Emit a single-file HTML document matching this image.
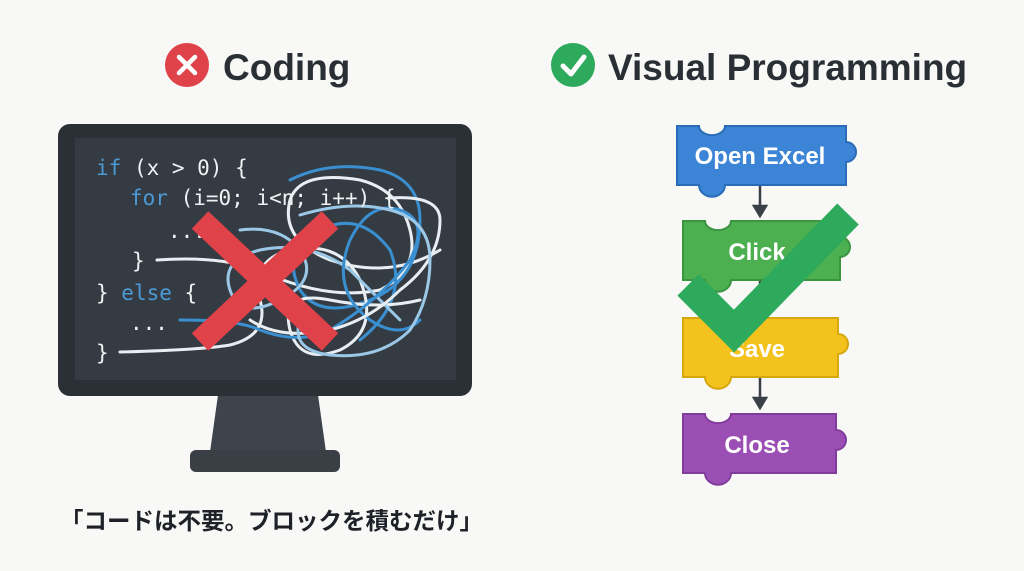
<!DOCTYPE html>
<html><head><meta charset="utf-8"><style>
html,body{margin:0;padding:0;background:#f8f8f6;}
svg{display:block}
</style></head><body>
<svg width="1024" height="571" viewBox="0 0 1024 571" xmlns="http://www.w3.org/2000/svg">
<rect width="1024" height="571" fill="#f8f8f6"/>
<circle cx="187" cy="65" r="22" fill="#e0424a"/>
<path d="M179 57 L195 73 M195 57 L179 73" stroke="#fff" stroke-width="4.5" stroke-linecap="round"/>
<text x="223" y="80" font-family="Liberation Sans, sans-serif" font-weight="bold" font-size="37" fill="#2a2f36">Coding</text>
<circle cx="573" cy="65" r="22" fill="#2eaa5c"/>
<path d="M563 66 L571 74 L584 57" stroke="#fff" stroke-width="5" fill="none" stroke-linecap="round" stroke-linejoin="round"/>
<text x="608" y="80" font-family="Liberation Sans, sans-serif" font-weight="bold" font-size="37" fill="#2a2f36">Visual Programming</text>
<path d="M218 395 L318 395 L326 452 L210 452 Z" fill="#3e444c"/>
<rect x="190" y="450" width="150" height="22" rx="6" fill="#3a3f46"/>
<rect x="58" y="124" width="414" height="272" rx="12" fill="#2b3036"/>
<rect x="75" y="138" width="381" height="242" fill="#353b42"/>
<g fill="none" stroke-width="3" stroke-linecap="round">
<path d="M157 260 Q230 255 270 275 Q330 300 380 290 Q420 270 410 230 Q400 190 360 180 Q300 170 290 200 Q280 240 330 260 Q390 280 440 250" stroke="#e8eef2"/>
<path d="M290 180 Q330 160 380 170 Q420 180 420 220 Q420 280 370 300 Q320 320 300 290 Q280 250 320 230 Q360 210 390 250 Q410 300 360 340" stroke="#3a8fd0"/>
<path d="M120 352 Q200 350 230 345 Q270 335 260 300 Q250 260 290 250 Q340 240 360 280 Q380 330 340 350 Q300 365 290 330 Q280 290 330 300 Q380 310 420 300" stroke="#e8eef2"/>
<path d="M240 230 Q280 225 300 250 Q320 280 280 300 Q240 320 230 290 Q220 260 260 250 Q310 240 350 270 Q380 300 400 320" stroke="#9cc8e8"/>
<path d="M180 320 Q240 320 260 330 Q300 345 330 330 Q380 300 410 260 Q430 220 400 210 Q370 200 350 240 Q330 290 370 320 Q400 340 420 320" stroke="#3a8fd0"/>
<path d="M390 198 Q440 195 440 220 Q440 260 400 290 Q370 320 330 330 Q280 340 250 320" stroke="#e8eef2"/>
<path d="M300 215 Q350 200 390 210 Q430 220 430 260 Q430 300 410 330 Q380 360 330 355 Q290 350 300 320" stroke="#9cc8e8"/>
</g>
<g font-family="DejaVu Sans Mono, Liberation Mono, monospace" font-size="21" fill="#eef2f4">
<text x="96" y="175"><tspan fill="#4b9ad6">if</tspan> (x &gt; 0) {</text>
<text x="130" y="205"><tspan fill="#4b9ad6">for</tspan> (i=0; i&lt;n; i++) {</text>
<text x="168" y="238">...</text>
<text x="132" y="268">}</text>
<text x="96" y="300">} <tspan fill="#4b9ad6">else</tspan> {</text>
<text x="130" y="330">...</text>
<text x="96" y="360">}</text>
</g>
<path d="M200 220 L330 342 M330 220 L200 342" stroke="#e0424a" stroke-width="24"/>
<g stroke-width="2">
<path d="M677 126 h22 a10 7 0 0 0 26 0 h121 v16 a9 9 0 1 1 0 20 v23 h-121 a10 9 0 0 1 -26 0 h-22 z" fill="#3b84d6" stroke="#2a6cb8"/>
<path d="M683 221 h22 a10 7 0 0 0 26 0 h109 v16 a9 9 0 1 1 0 20 v23 h-109 a10 9 0 0 1 -26 0 h-22 z" fill="#4caf50" stroke="#3a9440"/>
<path d="M683 318 h22 a10 7 0 0 0 26 0 h107 v16 a9 9 0 1 1 0 20 v23 h-107 a10 9 0 0 1 -26 0 h-22 z" fill="#f4c21c" stroke="#d8a70e"/>
<path d="M683 414 h22 a10 7 0 0 0 26 0 h105 v16 a9 9 0 1 1 0 20 v23 h-105 a10 9 0 0 1 -26 0 h-22 z" fill="#9b4fb5" stroke="#823c9c"/>
</g>
<g stroke="#3a4048" stroke-width="2.5" fill="#3a4048">
<line x1="760" y1="186" x2="760" y2="208"/><path d="M754 206 L766 206 L760 216 Z"/>
<line x1="760" y1="281" x2="760" y2="304"/><path d="M754 302 L766 302 L760 312 Z"/>
<line x1="760" y1="378" x2="760" y2="400"/><path d="M754 398 L766 398 L760 408 Z"/>
</g>
<g font-family="Liberation Sans, sans-serif" font-weight="bold" font-size="24" fill="#fff" text-anchor="middle">
<text x="760" y="164">Open Excel</text>
<text x="757" y="260">Click</text>
<text x="757" y="357">Save</text>
<text x="757" y="453">Close</text>
</g>
<path d="M688 285 L734 331 L848 214" stroke="#2eaa5c" stroke-width="30" fill="none"/>
<text x="60" y="529" font-family="Liberation Sans, 'Noto Sans CJK JP', sans-serif" font-weight="bold" font-size="23.5" fill="#1e2228">「コードは不要。ブロックを積むだけ」</text>
</svg>
</body></html>
